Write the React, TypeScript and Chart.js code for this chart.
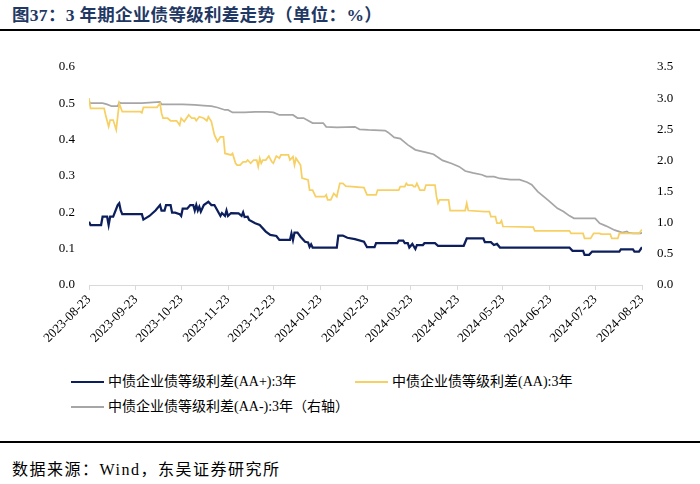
import React, { useEffect, useRef } from "react";
import { Chart, registerables } from "chart.js";

Chart.register(...registerables);

const TITLE = "图37：3 年期企业债等级利差走势（单位：%）";
const SOURCE = "数据来源：Wind，东吴证券研究所";
const SERIES_NAMES = [
  "中债企业债等级利差(AA+):3年",
  "中债企业债等级利差(AA):3年",
  "中债企业债等级利差(AA-):3年（右轴）",
];
const COLORS = ["#0c1f5c", "#f7d064", "#a6a6a6"];

const tickDates = [
  "2023-08-23", "2023-09-23", "2023-10-23", "2023-11-23", "2023-12-23", "2024-01-23", "2024-02-23",
  "2024-03-23", "2024-04-23", "2024-05-23", "2024-06-23", "2024-07-23", "2024-08-23",
];

const aaPlusDates = [
  "2023-08-23", "2023-08-24", "2023-08-31", "2023-09-01", "2023-09-04", "2023-09-05", "2023-09-06", "2023-09-08",
  "2023-09-11", "2023-09-12", "2023-09-13", "2023-09-14", "2023-09-27", "2023-09-28", "2023-10-02", "2023-10-06",
  "2023-10-09", "2023-10-10", "2023-10-12", "2023-10-13", "2023-10-16", "2023-10-17", "2023-10-19", "2023-10-22",
  "2023-10-23", "2023-10-24", "2023-10-27", "2023-10-29", "2023-10-31", "2023-11-01", "2023-11-02", "2023-11-03",
  "2023-11-04", "2023-11-05", "2023-11-07", "2023-11-10", "2023-11-12", "2023-11-14", "2023-11-16", "2023-11-18",
  "2023-11-19", "2023-11-21", "2023-11-22", "2023-11-23", "2023-11-25", "2023-11-30", "2023-12-02", "2023-12-03",
  "2023-12-04", "2023-12-06", "2023-12-07", "2023-12-11", "2023-12-14", "2023-12-18", "2023-12-21", "2023-12-25",
  "2023-12-27", "2024-01-03", "2024-01-04", "2024-01-05", "2024-01-06", "2024-01-08", "2024-01-10", "2024-01-13",
  "2024-01-15", "2024-01-16", "2024-01-17", "2024-01-18", "2024-02-03", "2024-02-04", "2024-02-07", "2024-02-10",
  "2024-02-15", "2024-02-21", "2024-02-23", "2024-02-28", "2024-02-29", "2024-03-14", "2024-03-15", "2024-03-18",
  "2024-03-19", "2024-03-21", "2024-03-22", "2024-03-24", "2024-03-26", "2024-03-27", "2024-03-31", "2024-04-01",
  "2024-04-08", "2024-04-10", "2024-04-27", "2024-04-29", "2024-05-10", "2024-05-11", "2024-05-15", "2024-05-17",
  "2024-05-19", "2024-05-21", "2024-07-06", "2024-07-08", "2024-07-15", "2024-07-16", "2024-07-19", "2024-07-21",
  "2024-08-08", "2024-08-09", "2024-08-17", "2024-08-18", "2024-08-21", "2024-08-23",
];
const aaPlusValues = [
  0.174, 0.165, 0.165, 0.188, 0.188, 0.165, 0.188, 0.188,
  0.22, 0.225, 0.205, 0.195, 0.195, 0.18, 0.19, 0.205,
  0.22, 0.205, 0.205, 0.22, 0.22, 0.199, 0.199, 0.195,
  0.19, 0.21, 0.21, 0.22, 0.22, 0.205, 0.22, 0.205,
  0.215, 0.202, 0.22, 0.229, 0.22, 0.22, 0.205, 0.19,
  0.198, 0.19, 0.205, 0.19, 0.198, 0.197, 0.19, 0.2,
  0.187, 0.188, 0.179, 0.17, 0.165, 0.147, 0.138, 0.135,
  0.124, 0.124, 0.142, 0.124, 0.144, 0.144, 0.133, 0.119,
  0.117, 0.105, 0.112, 0.103, 0.103, 0.136, 0.136, 0.13,
  0.126, 0.119, 0.104, 0.104, 0.115, 0.115, 0.122, 0.122,
  0.115, 0.115, 0.103, 0.113, 0.099, 0.11, 0.11, 0.115,
  0.115, 0.108, 0.108, 0.128, 0.128, 0.118, 0.118, 0.11,
  0.113, 0.103, 0.103, 0.094, 0.094, 0.083, 0.083, 0.092,
  0.092, 0.098, 0.098, 0.092, 0.092, 0.104,
];

const aaDates = [
  "2023-08-23", "2023-08-24", "2023-09-02", "2023-09-03", "2023-09-05", "2023-09-06", "2023-09-08", "2023-09-10",
  "2023-09-12", "2023-09-14", "2023-09-26", "2023-09-27", "2023-09-28", "2023-10-07", "2023-10-09", "2023-10-10",
  "2023-10-11", "2023-10-14", "2023-10-16", "2023-10-20", "2023-10-22", "2023-10-23", "2023-10-25", "2023-10-28",
  "2023-10-30", "2023-11-01", "2023-11-02", "2023-11-04", "2023-11-07", "2023-11-09", "2023-11-10", "2023-11-12",
  "2023-11-14", "2023-11-16", "2023-11-18", "2023-11-20", "2023-11-21", "2023-11-25", "2023-11-26", "2023-11-28",
  "2023-11-29", "2023-12-01", "2023-12-03", "2023-12-05", "2023-12-06", "2023-12-08", "2023-12-10", "2023-12-12",
  "2023-12-13", "2023-12-14", "2023-12-15", "2023-12-16", "2023-12-18", "2023-12-20", "2023-12-22", "2023-12-23",
  "2023-12-25", "2023-12-27", "2023-12-28", "2024-01-02", "2024-01-03", "2024-01-05", "2024-01-06", "2024-01-07",
  "2024-01-10", "2024-01-11", "2024-01-15", "2024-01-16", "2024-01-18", "2024-01-20", "2024-01-26", "2024-01-27",
  "2024-01-28", "2024-01-30", "2024-01-31", "2024-02-01", "2024-02-03", "2024-02-05", "2024-02-07", "2024-02-09",
  "2024-02-21", "2024-02-23", "2024-02-29", "2024-03-01", "2024-03-15", "2024-03-16", "2024-03-19", "2024-03-20",
  "2024-03-21", "2024-03-24", "2024-03-25", "2024-03-26", "2024-03-27", "2024-03-29", "2024-04-01", "2024-04-02",
  "2024-04-08", "2024-04-09", "2024-04-10", "2024-04-11", "2024-04-17", "2024-04-18", "2024-04-28", "2024-04-29",
  "2024-04-30", "2024-05-11", "2024-05-14", "2024-05-15", "2024-05-18", "2024-05-19", "2024-05-21", "2024-05-22",
  "2024-05-23", "2024-06-12", "2024-06-13", "2024-07-06", "2024-07-07", "2024-07-15", "2024-07-16", "2024-07-20",
  "2024-07-22", "2024-07-26", "2024-07-27", "2024-08-02", "2024-08-03", "2024-08-07", "2024-08-08", "2024-08-21",
  "2024-08-23",
];
const aaValues = [
  0.514, 0.486, 0.486, 0.468, 0.436, 0.454, 0.454, 0.427,
  0.5, 0.477, 0.477, 0.474, 0.489, 0.489, 0.5, 0.473,
  0.459, 0.459, 0.452, 0.452, 0.44, 0.459, 0.45, 0.468,
  0.459, 0.459, 0.452, 0.463, 0.459, 0.452, 0.463, 0.45,
  0.413, 0.395, 0.408, 0.408, 0.362, 0.358, 0.362, 0.335,
  0.33, 0.33, 0.339, 0.339, 0.344, 0.335, 0.344, 0.344,
  0.326, 0.349, 0.335, 0.344, 0.344, 0.355, 0.339, 0.335,
  0.355, 0.349, 0.358, 0.358, 0.344, 0.353, 0.33, 0.349,
  0.33, 0.294, 0.289, 0.261, 0.261, 0.243, 0.243, 0.248,
  0.234, 0.234, 0.243, 0.252, 0.243, 0.28, 0.28, 0.272,
  0.268, 0.248, 0.248, 0.261, 0.261, 0.271, 0.271, 0.28,
  0.275, 0.275, 0.271, 0.271, 0.28, 0.261, 0.261, 0.275,
  0.275, 0.243, 0.225, 0.234, 0.234, 0.205, 0.205, 0.225,
  0.205, 0.202, 0.202, 0.188, 0.188, 0.17, 0.17, 0.177,
  0.161, 0.159, 0.149, 0.149, 0.142, 0.142, 0.128, 0.128,
  0.142, 0.142, 0.14, 0.14, 0.128, 0.128, 0.142, 0.142,
  0.153,
];

const aaMinusDates = [
  "2023-08-23", "2023-08-24", "2023-09-01", "2023-09-04", "2023-09-07", "2023-09-11", "2023-09-12", "2023-09-13",
  "2023-09-27", "2023-10-09", "2023-10-10", "2023-10-24", "2023-11-01", "2023-11-07", "2023-11-12", "2023-11-16",
  "2023-11-21", "2023-11-23", "2023-11-26", "2023-12-04", "2023-12-11", "2023-12-19", "2023-12-23", "2023-12-27",
  "2024-01-05", "2024-01-08", "2024-01-12", "2024-01-18", "2024-01-25", "2024-01-27", "2024-02-03", "2024-02-15",
  "2024-02-18", "2024-02-24", "2024-03-06", "2024-03-08", "2024-03-12", "2024-03-16", "2024-03-21", "2024-03-26",
  "2024-04-02", "2024-04-07", "2024-04-13", "2024-04-19", "2024-04-24", "2024-04-28", "2024-05-03", "2024-05-09",
  "2024-05-12", "2024-05-17", "2024-05-21", "2024-05-28", "2024-06-03", "2024-06-08", "2024-06-11", "2024-06-15",
  "2024-06-22", "2024-06-28", "2024-07-02", "2024-07-06", "2024-07-09", "2024-07-23", "2024-07-26", "2024-07-30",
  "2024-08-05", "2024-08-10", "2024-08-13", "2024-08-14", "2024-08-17", "2024-08-22", "2024-08-23",
];
const aaMinusValues = [
  2.94, 2.92, 2.92, 2.9, 2.87, 2.87, 2.93, 2.92,
  2.92, 2.94, 2.9, 2.9, 2.89, 2.88, 2.87, 2.85,
  2.81, 2.81, 2.77, 2.77, 2.78, 2.78, 2.77, 2.73,
  2.73, 2.68, 2.68, 2.6, 2.6, 2.54, 2.53, 2.54,
  2.5, 2.49, 2.48, 2.45, 2.37, 2.35, 2.25, 2.17,
  2.13, 2.1, 2.0, 1.95, 1.9, 1.83, 1.8, 1.77,
  1.74, 1.74, 1.71, 1.69, 1.69, 1.65, 1.61, 1.5,
  1.36, 1.23, 1.18, 1.11, 1.07, 1.07, 0.99, 0.95,
  0.88, 0.84, 0.86, 0.84, 0.83, 0.83, 0.84,
];

const START = Date.UTC(2023, 7, 23);
function dayOf(s: string): number {
  const [y, m, d] = s.split("-").map(Number);
  return Math.round((Date.UTC(y, m - 1, d) - START) / 86400000);
}
function toPoints(dates: string[], values: number[]) {
  return dates.map((d, i) => ({ x: dayOf(d), y: values[i] }));
}

const SERIF = "'Liberation Serif', 'Times New Roman', 'Noto Sans CJK SC', serif";

export default function App() {
  const ref = useRef<HTMLCanvasElement | null>(null);

  useEffect(() => {
    if (!ref.current) return;
    Chart.defaults.font.family = SERIF;
    const chart = new Chart(ref.current, {
      type: "line",
      data: {
        datasets: [
          {
            label: SERIES_NAMES[0],
            data: toPoints(aaPlusDates, aaPlusValues),
            borderColor: COLORS[0],
            backgroundColor: COLORS[0],
            borderWidth: 2.25,
            pointRadius: 0,
            yAxisID: "y",
          },
          {
            label: SERIES_NAMES[1],
            data: toPoints(aaDates, aaValues),
            borderColor: COLORS[1],
            backgroundColor: COLORS[1],
            borderWidth: 1.75,
            pointRadius: 0,
            yAxisID: "y",
          },
          {
            label: SERIES_NAMES[2],
            data: toPoints(aaMinusDates, aaMinusValues),
            borderColor: COLORS[2],
            backgroundColor: COLORS[2],
            borderWidth: 1.75,
            pointRadius: 0,
            yAxisID: "y1",
          },
        ],
      },
      options: {
        animation: false,
        responsive: false,
        layout: { padding: { top: 67, left: 0, right: 0, bottom: 0 } },
        plugins: { legend: { display: false }, tooltip: { enabled: false } },
        elements: { line: { tension: 0 } },
        scales: {
          x: {
            type: "linear",
            min: 0,
            max: dayOf(tickDates[tickDates.length - 1]),
            afterBuildTicks: (scale: any) => {
              scale.ticks = tickDates.map((d) => ({ value: dayOf(d) }));
            },
            afterFit: (scale: any) => {
              scale.height = 85;
            },
            grid: {
              display: true,
              drawOnChartArea: false,
              drawTicks: true,
              tickLength: 5,
              color: "#d9d9d9",
            },
            border: { display: true, color: "#d9d9d9", width: 1 },
            ticks: {
              autoSkip: false,
              maxRotation: 45,
              minRotation: 45,
              padding: 2,
              color: "#000",
              font: { size: 13, family: SERIF },
              callback: (_v: any, i: number) => tickDates[i],
            },
          },
          y: {
            position: "left",
            min: 0,
            max: 0.6,
            afterFit: (scale: any) => {
              scale.width = 89;
            },
            grid: { display: false, drawTicks: false },
            border: { display: false },
            ticks: {
              stepSize: 0.1,
              padding: 14,
              color: "#000",
              font: { size: 13, family: SERIF },
              callback: (v: any) => Number(v).toFixed(1),
            },
          },
          y1: {
            position: "right",
            min: 0,
            max: 3.5,
            afterFit: (scale: any) => {
              scale.width = 58;
            },
            grid: { display: false, drawTicks: false },
            border: { display: false },
            ticks: {
              stepSize: 0.5,
              padding: 15,
              color: "#000",
              font: { size: 13, family: SERIF },
              callback: (v: any) => Number(v).toFixed(1),
            },
          },
        },
      },
    });
    return () => chart.destroy();
  }, []);

  const legendText: React.CSSProperties = {
    position: "absolute",
    fontFamily: SERIF,
    fontSize: 14,
    color: "#000",
    lineHeight: "16px",
    whiteSpace: "nowrap",
  };
  const legendItems = [
    { x: 71, y: 382, i: 0, w: 2.5 },
    { x: 355, y: 382, i: 1, w: 2 },
    { x: 71, y: 407, i: 2, w: 2 },
  ];

  return (
    <div
      style={{
        position: "fixed",
        left: 0,
        top: 0,
        width: 700,
        height: 484,
        background: "#fff",
        overflow: "hidden",
      }}
    >
      <div
        style={{
          position: "absolute",
          left: 12,
          top: 5,
          fontFamily: SERIF,
          fontWeight: "bold",
          fontSize: 17.5,
          letterSpacing: 0.3,
          lineHeight: "20px",
          color: "#1f3864",
          whiteSpace: "nowrap",
        }}
      >
        {TITLE}
      </div>
      <div style={{ position: "absolute", left: 0, top: 29, width: 700, height: 2, background: "#000" }} />
      <canvas
        ref={ref}
        width={700}
        height={370}
        style={{ position: "absolute", left: 0, top: 0, width: 700, height: 370, display: "block" }}
      />
      {legendItems.map((it) => (
        <React.Fragment key={it.i}>
          <div
            style={{
              position: "absolute",
              left: it.x,
              top: it.y - it.w / 2,
              width: 33,
              height: it.w,
              background: COLORS[it.i],
            }}
          />
          <div style={{ ...legendText, left: it.x + 37, top: it.y - 8 }}>{SERIES_NAMES[it.i]}</div>
        </React.Fragment>
      ))}
      <div style={{ position: "absolute", left: 0, top: 441, width: 700, height: 2, background: "#000" }} />
      <div
        style={{
          position: "absolute",
          left: 12,
          top: 460,
          fontFamily: SERIF,
          fontSize: 16,
          letterSpacing: 1.5,
          lineHeight: "20px",
          color: "#000",
          whiteSpace: "nowrap",
        }}
      >
        {SOURCE}
      </div>
    </div>
  );
}
